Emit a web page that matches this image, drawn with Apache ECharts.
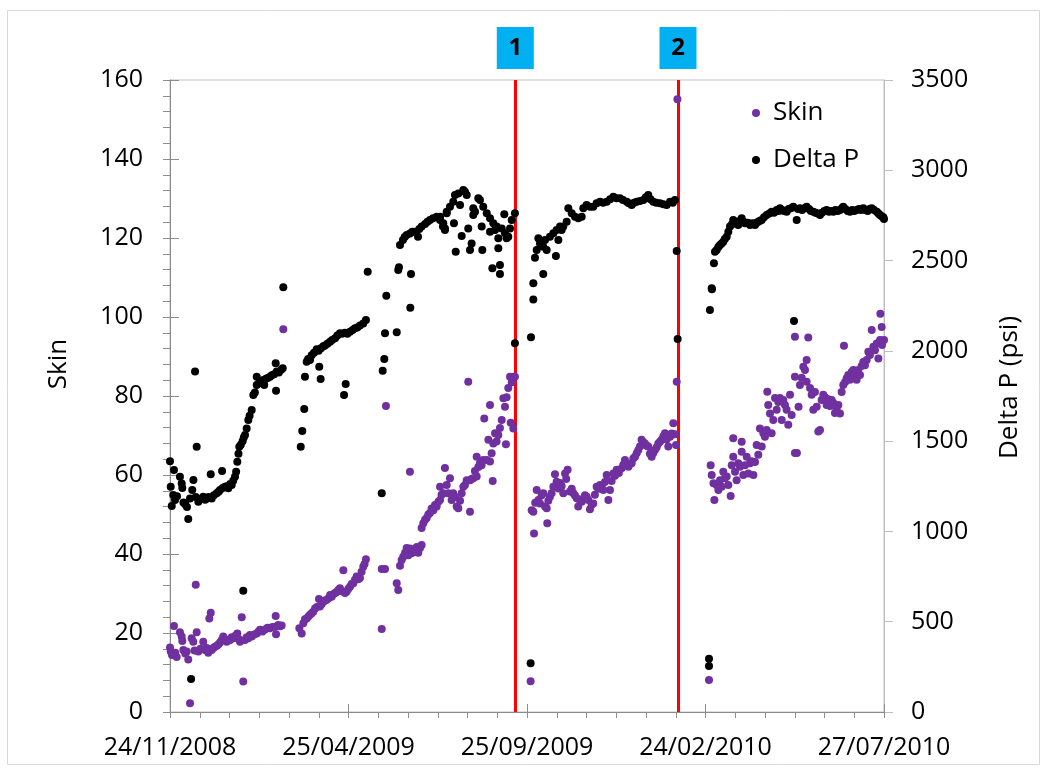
<!DOCTYPE html>
<html>
<head>
<meta charset="utf-8">
<title>Skin and Delta P</title>
<script src="https://cdn.jsdelivr.net/npm/echarts@6/dist/echarts.min.js"></script>
<style>
  html, body { margin: 0; padding: 0; background: #fff; }
  #chart { width: 1047px; height: 772px; }
</style>
</head>
<body>
<div id="chart"></div>
<script>
// Time axis: days counted from 24/11/2008, one major step = 152.5 days
const dateTicks = ['24/11/2008', '25/04/2009', '25/09/2009', '24/02/2010', '27/07/2010'];
const dayStep = 152.5;
const dayMax = 610;

// Events marked with vertical lines (day, label)
const eventDays = [295, 434];
const eventLabels = ['1', '2'];

// Skin, [day, value]
const skinPoints = [
  [0,16.3],[0.6,15.3],[1.7,14.4],[3.4,21.8],[4.5,15],[5.7,13.9],[8.5,20.2],[10,19.1],[10.5,18],[11.4,15.7],
  [13,14.8],[14.3,15.3],[15.6,13.3],[17.1,2.2],[18.5,18.7],[19.9,17.8],[21,15.6],[22,32.2],[22.8,20.2],[24.2,15.3],
  [26,16],[28.4,17.8],[29.9,15.7],[31.4,16.2],[32.7,15],[33.6,23.7],[34.8,25.1],[35.6,15.7],[37,16.2],[38.4,16.5],
  [40,16.8],[41.3,17.1],[42.7,17.6],[44.2,18.2],[45.5,19.1],[47,18.4],[48.4,17.8],[50,18.1],[51.3,18.2],[52.7,18.9],
  [54.1,18.7],[55.8,19.3],[57.5,19.9],[58.7,18.5],[59.8,17.8],[61.3,24],[62.6,7.7],[64.1,18.2],[65.5,18.9],[66.9,18.7],
  [68.3,19.5],[69.8,19.1],[72,19.6],[74.1,19.9],[75.5,20.3],[76.9,20.8],[79,20.4],[81.2,20.9],[83.3,21.3],[85.4,21.2],
  [87.5,21.5],[89.7,21.6],[90.3,24.3],[90.6,19.7],[92.5,22],[94,21.7],[95.4,21.9],[96.8,96.9],
  [110.5,21.2],[112.5,19.9],[113.9,22.5],[115.3,23.5],[116.8,23.7],[118.2,24.2],[119.6,24.6],[121,25],[122.4,25.4],[123.9,26.2],
  [125.5,26.6],[127.3,28.6],[128.1,26.7],[129.5,27.3],[131,27.9],[132.5,28.2],[133.9,28.4],[135.5,28.8],[136.8,29.6],[138.1,29.2],
  [139.5,29.8],[141,30.1],[142.4,30.4],[143.8,30.9],[145.2,31.3],[146.6,30.6],[148.1,35.9],[149.5,30.1],[151,30.5],[152.4,31.2],
  [153.8,31.7],[155.2,32.4],[156.6,32.6],[158,33.5],[159.5,34.3],[160.9,33.6],[162.3,33.9],[163.7,35.5],[165.1,36.8],[166.2,37.5],
  [167.4,38.7],
  [180.9,21],[180.9,36.2],[183.7,36.2],[184.5,77.5],[193.7,32.6],[195,30.9],[196.5,37],[197.9,38.5],[199.3,39.3],[200.8,40.3],
  [202.2,41.5],[203.6,39.7],[205,60.8],[205,41.4],[206.5,40.2],[207.9,41],[209.3,40.6],[210.8,41.8],[212.1,40.3],[213.6,41.5],
  [215,42.3],[215,46.6],[216.4,47.8],[217.9,48.7],[219.3,49.1],[220.7,50],[222.1,50.4],[223.5,51.5],[225,51.1],[226.4,52.4],
  [227.8,52],[229.3,53.2],[230.7,53.7],[230.7,57],[232,55],[233.5,55.4],[234.9,61.8],[236.4,57.5],[237.8,55.4],[239.2,59.2],
  [240.6,53.7],[242,55.4],[243.5,54.4],[244.9,52],[246.3,51.6],[247.8,53.5],[249.2,55.4],[250.6,57],[252,57.5],[253.5,58.7],
  [254.8,83.6],[256.3,50.7],[256.3,58.7],[257.7,59],[259.1,59.2],[260.5,61],[262,64.6],[262,59.6],[263.4,62],[264.8,63],
  [266.2,62.5],[267.6,63.8],[268.5,74.3],[270.6,63.8],[272,68.9],[273.4,77.7],[273.4,63.4],[274.8,65.5],[275.7,58.5],[276.2,68],
  [277.7,70.6],[279,68.5],[280.5,70.1],[281.9,71.9],[283.4,73.9],[284.8,79.4],[286.2,77.3],[287,67.8],[287.6,79.7],[289,82],
  [290.5,84.9],[291.1,73.2],[292,83.5],[293.3,84.9],[293.3,71.8],[294.7,84.9],
  [308.1,7.8],[309,51.1],[310.4,50.7],[311,45.2],[312,53],[313.3,56.2],[314.7,53.7],[316.1,52.8],[317.5,54.9],[318.9,55.4],
  [320.4,52],[321.8,51.6],[322.3,47.8],[323.2,53.5],[324.6,54.5],[326,55.4],[327.5,57],[328.9,60.2],[330.3,58.3],[331.8,56.6],
  [333.2,58],[334.6,57.2],[336,55.4],[337.5,60.4],[338.5,59],[339.7,61.3],[341.7,55.8],[343.2,56.5],[344.6,55.4],[346,54.8],
  [347.5,54.1],[348.8,52],[350.3,53.6],[351.7,53.2],[353.1,54],[354.5,54.9],[356,54.5],[357.4,53.7],[358.8,51.3],[360.2,52.5],
  [361.6,52.8],[363,55],[364.5,57],[366,56.5],[367.4,57.5],[368.8,56.8],[370.2,56.2],[371.6,58.2],[373.1,60],[374.5,53.7],
  [375.9,56.2],[377.3,58.5],[378.8,60.4],[380.2,59.8],[381.6,61.3],[383.5,60.5],[385.9,61.7],[387.3,62.6],[388.7,63.8],[390.2,62.5],
  [391.6,62.1],[393,62.8],[394.4,63],[395.8,64.2],[397.3,64.6],[398.7,65.5],[400.1,66.3],[401.5,67.2],[402.9,68.9],[404.4,68.3],
  [405.8,68],[407.2,67.4],[408.6,67.2],[410,65.4],[411.5,64.6],[412.9,65.6],[414.3,66.3],[415.8,67],[417.2,68],[418.6,68.4],
  [420,68.9],[421.5,69.8],[422.9,70.6],[424.3,69],[425.7,67.2],[427.2,69.7],[428.6,70.5],[430,73.1],[431.4,70.3],[432.3,67.6],
  [432.9,83.6],[433.5,155.1],
  [460.5,8.1],[461.9,62.5],[462.8,60],[464.3,57.9],[465.1,53.7],[467,57.5],[468.5,56.2],[469.9,58.7],[471.3,57],[472.7,60.8],
  [474.1,59.2],[475.6,59.6],[477,57.5],[479,54.7],[479.9,62.5],[481.2,69.3],[481.2,64.6],[482.7,60.8],[484.1,58.7],[485.5,63],
  [487,62.1],[488.4,68.4],[488.4,65.9],[489.8,60],[491.2,62.5],[492.7,64.6],[494.1,60.4],[495.5,63],[496.9,63.5],[498.4,60],
  [499.8,63.3],[501.2,67.6],[502.6,65.1],[504,71.8],[505.5,67.2],[506.9,70.6],[508.3,69.7],[509.8,71.4],[510.3,81.1],[511.1,77.7],
  [512.6,75.6],[514,70.6],[515.4,73.9],[516.9,79.5],[518.3,76.5],[519.7,78.5],[521.1,79.5],[522.6,73.9],[524,79],[525.4,77.7],
  [526.8,76.5],[528.2,72.7],[529.7,80.3],[531.1,75.2],[533.9,95],[533.9,65.6],[533.9,84.9],[535.6,65.6],[537,77.3],[538.2,82.8],
  [539.7,84.6],[541.1,87.4],[542.5,86.6],[543.9,89.1],[543.9,83.6],[545.3,94.8],[546.8,82],[548.2,80.3],[549.6,76.5],[551,81],
  [552.5,77.3],[553.9,71],[555.3,71.4],[556.7,79],[558.1,80.3],[559.6,79.7],[561,77.7],[562.4,79.2],[563.8,77.5],[565.3,79],
  [566.7,78.2],[568.1,75.7],[569.5,76.5],[571,77.7],[572.4,75.6],[573.8,81],[575.2,82.8],[575.8,92.7],[576.7,83.5],[578.1,84.5],
  [579.5,85.3],[580.9,84.1],[582.4,86.1],[583.8,86.6],[585.2,85.6],[586.6,84.1],[588,86.6],[589.5,85.3],[590.9,87.6],[592.3,88.6],
  [593.7,87.8],[595.2,89.1],[596.6,91.2],[598,90.4],[599.5,96.7],[600.9,92.5],[602.3,91.6],[603.8,93.3],[605.2,89.5],[606.6,94.2],
  [606.9,100.8],[608,97.5],[608.3,92.9],[610,94.2]
];

// Delta P in psi, [day, value]
const deltaPPoints = [
  [0,1388],[0.6,1248],[1.5,1141],[3.4,1340],[2.8,1202],[4.3,1174],[6,1195],[8.5,1303],[10,1266],[10.5,1240],
  [11.5,1160],[13,1150],[14.5,1135],[15.6,1069],[17.1,1183],[18,183],[19,1229],[20,1285],[21.4,1885],[22.8,1469],
  [22,1190],[24.2,1165],[26,1180],[28.4,1192],[30,1175],[31.4,1183],[33,1190],[34.8,1316],[35.6,1183],[37.5,1200],
  [39.9,1211],[41.5,1220],[42.7,1229],[44.5,1335],[45,1240],[47,1248],[48.5,1250],[49.8,1239],[51.5,1262],[52.7,1257],
  [54,1280],[55.5,1303],[56.5,1330],[57.5,1386],[58.5,1430],[59.2,1469],[60.5,1480],[62,1500],[62.6,672],[63,1520],
  [64.1,1534],[65.5,1570],[66.9,1617],[68,1640],[69.8,1672],[71.2,1756],[72.5,1770],[74.1,1811],[74.1,1857],[76,1820],
  [78,1830],[79.7,1838],[80.5,1811],[82,1845],[83.5,1850],[85.4,1857],[87,1865],[89,1870],[90.3,1931],[90.6,1779],
  [91.2,1885],[93,1880],[95,1895],[96.3,1903],[96.8,2352],
  [111.7,1469],[113,1556],[114.7,1678],[115.3,1857],[116.8,1940],[118,1955],[119.6,1950],[121,1975],[123,1990],[125.3,2009],
  [127.5,1912],[128.7,1844],[127,2000],[129,2015],[131,2025],[132.4,2030],[134.5,2040],[136.7,2051],[138.5,2060],[141,2070],
  [143,2085],[145.2,2097],[147,2095],[148.7,1756],[150.1,1816],[149.5,2100],[151.5,2095],[153.8,2106],[156,2115],[158,2125],
  [160,2130],[162.3,2140],[165.1,2152],[167.4,2171],[168.9,2438],
  [180.9,1211],[181.7,1890],[183.1,1955],[183.7,2097],[184.8,2305],[193.7,2103],[195,2448],[195.6,2463],[196.5,2586],[199,2614],
  [200.5,2630],[202.2,2642],[205,2650],[205.3,2239],[205.9,2426],[207,2660],[209.3,2660],[211.9,2632],[213,2675],[215,2688],
  [217.9,2702],[220,2715],[222.1,2725],[224.7,2735],[227.8,2743],[230.7,2725],[230.7,2743],[233.5,2706],[233.2,2688],[234.9,2678],
  [234.9,2669],[236.4,2762],[236.4,2771],[239.2,2798],[242,2826],[242.6,2706],[243.5,2863],[244.1,2549],[246.3,2872],[247.8,2808],
  [249.2,2636],[250.6,2891],[252,2881],[253.5,2863],[254.8,2678],[256.3,2558],[257.7,2595],[259.1,2790],[259.1,2752],[260.6,2771],
  [263.4,2845],[264.8,2835],[266.3,2688],[266.8,2558],[267.6,2798],[270.6,2762],[273.4,2734],[273.4,2660],[275.4,2457],[276.2,2706],
  [277.7,2669],[279.1,2688],[280.5,2623],[280.5,2568],[281.9,2476],[281.9,2426],[283.4,2678],[285.6,2756],[286.2,2651],[287.6,2623],
  [289,2632],[290.5,2678],[291.9,2725],[294.7,2762],[294.7,2042],
  [308.1,270],[308.4,2075],[310.4,2285],[310.4,2374],[311.8,2516],[313.3,2558],[314.7,2623],[316.1,2595],[318.9,2577],[318.9,2426],
  [320.4,2614],[321.8,2558],[324.6,2632],[327.5,2651],[329.7,2525],[330.3,2669],[331.8,2614],[333.2,2688],[334.6,2669],[336,2688],
  [338.9,2715],[340.3,2790],[343.2,2762],[346,2743],[348.8,2734],[351.7,2743],[353.1,2790],[355.9,2808],[358.8,2798],[361.6,2798],
  [364.5,2817],[367.4,2826],[370,2820],[373.1,2826],[376,2840],[378.8,2854],[381.5,2845],[384.4,2845],[387,2835],[390.2,2826],
  [392,2817],[394.4,2808],[396.5,2820],[398.7,2826],[401.5,2830],[404.4,2835],[406.5,2850],[408.6,2863],[410.5,2840],[412.9,2826],
  [415.5,2820],[418.6,2817],[421.5,2812],[424.3,2808],[427.2,2826],[429.5,2820],[431.4,2836],[432.9,2553],[433.7,2066],
  [460.5,295],[460.5,255],[461.3,2226],[462.8,2347],[463,2341],[464.7,2485],[465.6,2549],[467,2558],[468.5,2575],[469.9,2586],
  [471.3,2595],[472.7,2604],[474,2620],[475.6,2632],[477,2660],[478.4,2688],[480,2700],[481.2,2725],[483.5,2715],[485.5,2697],
  [487,2720],[488.4,2734],[490,2715],[491.2,2706],[493.5,2710],[495.5,2697],[497.5,2706],[499.8,2697],[501,2710],[502.6,2715],
  [504,2720],[505.5,2725],[507.5,2740],[509.8,2752],[512,2760],[514,2771],[516,2765],[518.3,2780],[520,2775],[521.1,2790],
  [523,2780],[524.5,2775],[526.8,2771],[528.5,2785],[530.5,2790],[532.5,2798],[533.1,2165],[535.4,2725],[536.5,2785],[538.2,2790],
  [540,2780],[542,2790],[543.9,2798],[546,2785],[547.5,2775],[549.6,2771],[551.5,2765],[553.5,2760],[555.3,2752],[557,2765],
  [559,2775],[561,2780],[563,2770],[564.8,2775],[566.7,2771],[568.5,2780],[570.5,2775],[572.4,2780],[574,2790],[575.2,2798],
  [577,2785],[579,2775],[580.9,2771],[582.8,2780],[584.6,2775],[586.6,2780],[588.5,2785],[590.3,2780],[592.3,2790],[594,2780],
  [596,2775],[597.7,2785],[599.5,2790],[601.5,2780],[603.8,2771],[605.3,2760],[606.6,2752],[608,2745],[609.4,2740],[610,2730]
];

const FONT = 'Open Sans';
const AXIS_DARK = '#8c8c8c';
const AXIS_LIGHT = '#bfbfbf';

const chart = echarts.init(document.getElementById('chart'), null, { renderer: 'canvas' });

const hiddenLabel = { show: false };
const noSplit = { show: false };

chart.setOption({
  animation: false,
  backgroundColor: '#ffffff',
  textStyle: { fontFamily: FONT },
  graphic: [{
    type: 'rect',
    silent: true,
    shape: { x: 7.5, y: 10.5, width: 1032, height: 754 },
    style: { fill: null, stroke: '#d9d9d9', lineWidth: 1 }
  }],
  grid: {
    left: 170, right: 163, top: 80, bottom: 60,
    show: true, borderColor: AXIS_LIGHT, borderWidth: 1, backgroundColor: 'transparent'
  },
  legend: {
    data: ['Skin', 'Delta P'],
    orient: 'vertical',
    left: 752, top: 98, padding: 0,
    itemWidth: 8, itemHeight: 8, itemGap: 17,
    textStyle: { fontFamily: FONT, fontSize: 26, color: '#000', lineHeight: 30, padding: [0, 0, 0, 8] }
  },
  xAxis: [{
    type: 'value', min: 0, max: dayMax, interval: dayStep, position: 'bottom',
    axisLine: { show: true, onZero: false, lineStyle: { color: AXIS_DARK, width: 1 } },
    axisTick: { show: true, inside: false, length: 6, lineStyle: { color: AXIS_DARK } },
    minorTick: { show: true, splitNumber: 6, length: 6, lineStyle: { color: AXIS_DARK } },
    axisLabel: {
      margin: 23, color: '#000', fontFamily: FONT, fontSize: 25,
      formatter: v => dateTicks[Math.round(v / dayStep)] || ''
    },
    splitLine: noSplit, minorSplitLine: noSplit
  }, {
    type: 'value', min: 0, max: dayMax, interval: dayStep, position: 'bottom',
    axisLine: { show: false, onZero: false },
    axisTick: { show: true, inside: true, length: 8, lineStyle: { color: AXIS_DARK } },
    axisLabel: hiddenLabel, splitLine: noSplit
  }],
  yAxis: [{
    type: 'value', min: 0, max: 160, interval: 20, position: 'left',
    name: 'Skin', nameLocation: 'middle', nameRotate: 90, nameGap: 98,
    nameTextStyle: { fontFamily: FONT, fontSize: 26, color: '#000', padding: [0, 0, 0, 64] },
    axisLine: { show: true, onZero: false, lineStyle: { color: AXIS_DARK, width: 1 } },
    axisTick: { show: true, inside: false, length: 7, lineStyle: { color: AXIS_DARK } },
    minorTick: { show: true, splitNumber: 5, length: 7, lineStyle: { color: AXIS_DARK } },
    axisLabel: { margin: 27, color: '#000', fontFamily: FONT, fontSize: 25 },
    splitLine: noSplit, minorSplitLine: noSplit
  }, {
    type: 'value', min: 0, max: 3500, interval: 500, position: 'right',
    name: 'Delta P (psi)', nameLocation: 'middle', nameRotate: 90, nameGap: 113,
    nameTextStyle: { fontFamily: FONT, fontSize: 26, color: '#000', padding: [0, 0, 0, 17] },
    axisLine: { show: true, onZero: false, lineStyle: { color: AXIS_LIGHT, width: 1 } },
    axisTick: { show: true, inside: false, length: 9, lineStyle: { color: AXIS_LIGHT } },
    axisLabel: { margin: 27, color: '#000', fontFamily: FONT, fontSize: 25, formatter: v => String(v) },
    splitLine: noSplit
  }, {
    type: 'value', min: 0, max: 160, interval: 20, position: 'left',
    axisLine: { show: false, onZero: false },
    axisTick: { show: true, inside: true, length: 9, lineStyle: { color: AXIS_DARK } },
    axisLabel: hiddenLabel, splitLine: noSplit
  }],
  series: [{
    name: 'Skin',
    type: 'scatter',
    xAxisIndex: 0, yAxisIndex: 0,
    symbol: 'circle', symbolSize: 8,
    itemStyle: { color: '#7030a0', opacity: 1 },
    z: 3,
    data: skinPoints,
    markLine: {
      silent: true,
      z: 1,
      symbol: ['none', 'none'],
      lineStyle: { color: '#ff0000', width: 3, type: 'solid' },
      label: {
        show: true, position: 'end', distance: 11,
        formatter: p => p.name,
        backgroundColor: '#00b0f0', color: '#000',
        fontFamily: FONT, fontWeight: 'bold', fontSize: 24,
        width: 37, height: 42, lineHeight: 42, align: 'center', padding: 0
      },
      emphasis: { disabled: true },
      data: eventDays.map((d, i) => ({ xAxis: d, name: eventLabels[i] }))
    }
  }, {
    name: 'Delta P',
    type: 'scatter',
    xAxisIndex: 0, yAxisIndex: 1,
    symbol: 'circle', symbolSize: 8,
    itemStyle: { color: '#000000', opacity: 1 },
    z: 4,
    data: deltaPPoints
  }]
});
</script>
</body>
</html>
